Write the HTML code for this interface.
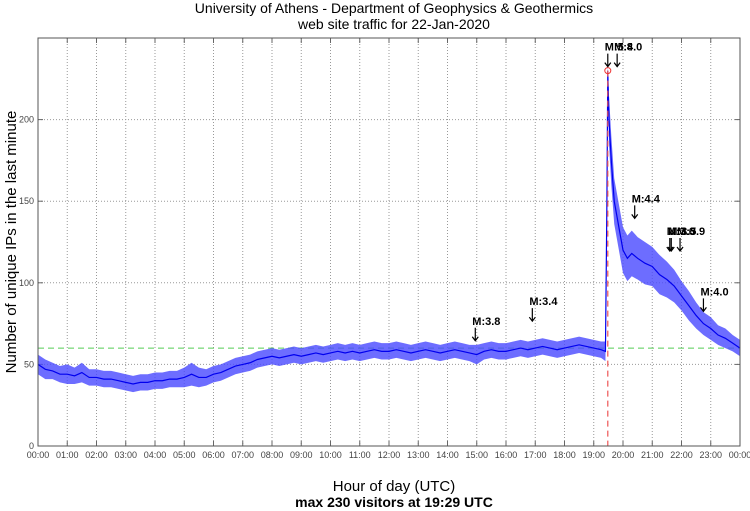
<!DOCTYPE html>
<html><head><meta charset="utf-8"><style>
body{margin:0;background:#fff;width:750px;height:511px;overflow:hidden;font-family:"Liberation Sans",sans-serif}
svg{display:block}
</style></head><body>
<svg id="chart" width="750" height="511">
<text x="394" y="13" font-size="14" text-anchor="middle">University of Athens - Department of Geophysics &amp; Geothermics</text>
<text x="394" y="29" font-size="14" text-anchor="middle">web site traffic for 22-Jan-2020</text>
<text x="394" y="491" font-size="15" text-anchor="middle">Hour of day (UTC)</text>
<text x="394" y="507" font-size="14" font-weight="bold" text-anchor="middle">max 230 visitors at 19:29 UTC</text>
<text transform="translate(16,242) rotate(-90)" font-size="15" text-anchor="middle">Number of unique IPs in the last minute</text>
<g id="grid"></g><g id="series"></g><g id="ann"></g>
<rect x="38" y="38" width="702" height="408" fill="none" stroke="#555" stroke-width="1"/>
</svg>
<script>
const hours=[0,0.25,0.5,0.75,1,1.25,1.5,1.75,2,2.25,2.5,2.75,3,3.25,3.5,3.75,4,4.25,4.5,4.75,5,5.25,5.5,5.75,6,6.25,6.5,6.75,7,7.25,7.5,7.75,8,8.25,8.5,8.75,9,9.25,9.5,9.75,10,10.25,10.5,10.75,11,11.25,11.5,11.75,12,12.25,12.5,12.75,13,13.25,13.5,13.75,14,14.25,14.5,14.75,15,15.25,15.5,15.75,16,16.25,16.5,16.75,17,17.25,17.5,17.75,18,18.25,18.5,18.75,19,19.25,19.4,19.45,19.48,19.52,19.6,19.7,19.8,19.9,20,20.15,20.3,20.5,20.75,21,21.25,21.5,21.75,22,22.25,22.5,22.75,23,23.25,23.5,23.75,24];
const visitors=[50,47,46,44,44,43,45,42,42,41,41,40,39,38,39,39,40,40,41,41,42,44,42,42,44,45,47,49,50,51,53,54,55,54,55,56,55,56,57,56,57,58,57,58,57,58,59,58,58,59,58,57,58,59,58,57,58,59,58,57,56,58,59,58,58,59,60,59,60,61,60,59,60,61,62,61,60,59,58,150,230,200,175,150,140,130,120,115,118,115,112,110,105,102,98,92,86,80,75,72,68,66,63,60];
const spread=[6,6,5,5, 6,5,6,5, 5,5,5,5, 5,5,5,5, 5,5,5,5, 6,7,6,5, 5,5,5,5, 5,5,5,5, 5,5,5,5, 5,5,5,5, 5,5,5,5, 5,5,5,5, 5,5,5,5, 5,5,5,5, 5,5,5,5, 6,5,5,5, 5,5,5,5, 5,5,5,5, 5,5,5,5, 5,5,
 6,15,3,15,15,14,14,14, 14,14,14,13,13, 12,12,11,10,9,9,8,7,7,6,6,5,5];
const yTicks=[0,50,100,150,200];
const xTickLabels=["00:00","01:00","02:00","03:00","04:00","05:00","06:00","07:00","08:00","09:00","10:00","11:00","12:00","13:00","14:00","15:00","16:00","17:00","18:00","19:00","20:00","21:00","22:00","23:00","00:00"];
const quakeHours=[14.95,16.9,19.48,19.8,20.4,21.6,21.65,21.95,22.75];
const quakeLabels=["M:3.8","M:3.4","M:5.8","M:4.0","M:4.4","M:3.6","M:3.5","M:3.9","M:4.0"];
const quakeLevels=[70,82,238,238,145,125,125,125,88];
const threshold=60, maxHour=19.48, maxVal=230;
const X0=38,X1=740,Y0=446,Y1=38;
const sx=h=>X0+(X1-X0)*h/24, sy=v=>Y0-(Y0-Y1)*v/250;
const NS="http://www.w3.org/2000/svg";
function mk(t,a,p){const e=document.createElementNS(NS,t);for(const k in a)e.setAttribute(k,a[k]);p.appendChild(e);return e;}
const grid=document.getElementById('grid'),ser=document.getElementById('series'),ann=document.getElementById('ann');
xTickLabels.forEach((l,i)=>{const x=sx(i);
 if(i>0&&i<24){const g=mk('line',{x1:x,x2:x,y1:Y1,y2:Y0,stroke:'#999','stroke-dasharray':'1,2'},grid);
 
 }
 mk('line',{x1:x,x2:x,y1:Y0,y2:Y0-5,stroke:'#666'},grid);mk('line',{x1:x,x2:x,y1:Y1,y2:Y1+5,stroke:'#666'},grid);
 const t=mk('text',{x:x,y:458,'font-size':9,fill:'#444','text-anchor':'middle'},grid);t.textContent=l;
 
 });
yTicks.forEach(v=>{const y=sy(v);
 if(v>0){const g=mk('line',{x1:X0,x2:X1,y1:y,y2:y,stroke:'#999','stroke-dasharray':'1,2'},grid);
 
 }
 mk('line',{x1:X0,x2:X0+5,y1:y,y2:y,stroke:'#666'},grid);mk('line',{x1:X1,x2:X1-5,y1:y,y2:y,stroke:'#666'},grid);
 const t=mk('text',{x:X0-4,y:y+3,'font-size':9,fill:'#444','text-anchor':'end'},grid);t.textContent=v;
 
 });
const th=mk('line',{x1:X0,x2:X1,y1:sy(threshold),y2:sy(threshold),stroke:'#5c5','stroke-dasharray':'6,4'},ser);


const n=Math.min(hours.length,visitors.length,spread.length);
let up=[],dn=[];
for(let i=0;i<n;i++){up.push(sx(hours[i])+','+sy(visitors[i]+spread[i]));dn.push(sx(hours[i])+','+sy(visitors[i]-spread[i]));}
const band=mk('polygon',{points:up.concat(dn.reverse()).join(' '),fill:'#4848ff','fill-opacity':0.8},ser);


const line=mk('polyline',{points:hours.slice(0,n).map((h,i)=>sx(h)+','+sy(visitors[i])).join(' '),fill:'none',stroke:'#0000ee','stroke-width':1.2},ser);


const ml=mk('line',{x1:sx(maxHour),x2:sx(maxHour),y1:sy(maxVal),y2:Y0,stroke:'#e55','stroke-dasharray':'6,4','stroke-width':1.2},ser);


const mc=mk('circle',{cx:sx(maxHour),cy:sy(maxVal),r:3,fill:'none',stroke:'#e33'},ser);


quakeHours.forEach((h,i)=>{const x=sx(h),y=sy(quakeLevels[i]);
 const a=mk('path',{d:`M${x},${y-4}V${y+9}M${x-3},${y+5}L${x},${y+9}L${x+3},${y+5}`,fill:'none',stroke:'#000','stroke-width':1.2},ann);
 
 
 const t=mk('text',{x:x-3,y:y-7,'font-size':11,'font-weight':'bold'},ann);t.textContent=quakeLabels[i];
 
 });
</script>
</body></html>
